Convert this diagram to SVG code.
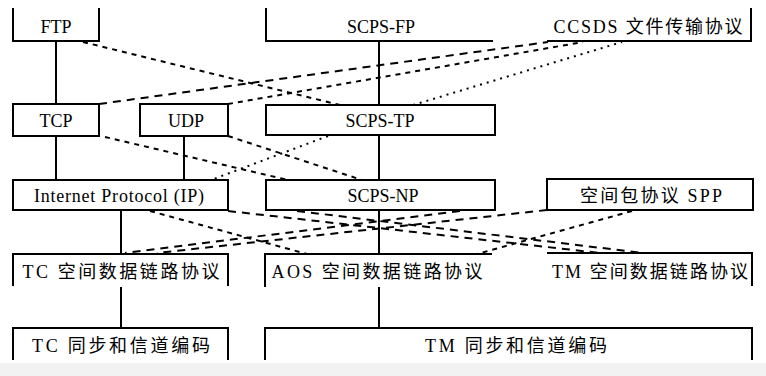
<svg xmlns="http://www.w3.org/2000/svg" width="766" height="376" viewBox="0 0 766 376">
<style>
.b{fill:none;stroke:#000;stroke-width:2}
.l{fill:none;stroke:#000;stroke-width:2}
.d1{fill:none;stroke:#000;stroke-width:2;stroke-dasharray:8 6}
.d2{fill:none;stroke:#000;stroke-width:2;stroke-dasharray:5 5}
.d3{fill:none;stroke:#000;stroke-width:2;stroke-dasharray:2 5}
text{font-family:"Liberation Serif","Noto Sans CJK SC",serif;font-size:18px;fill:#000;text-anchor:middle}
</style>
<rect width="766" height="376" fill="#fff"/>
<rect y="363" width="766" height="13" fill="#f2f2f2"/>
<g id="ftp"><path class="b" d="M13,8V41H99V8"/><text x="56" y="33">FTP</text></g>
<g id="scps-fp"><path class="b" d="M266,8V41H493"/><text x="381" y="33">SCPS-FP</text></g>
<g id="ccsds-fp"><path class="b" d="M547,41H751V8"/><text x="648" y="33" textLength="189">CCSDS 文件传输协议</text></g>
<g id="tcp"><rect class="b" x="13" y="104" width="86" height="32"/><text x="56" y="127">TCP</text></g>
<g id="udp"><rect class="b" x="140" y="104" width="88" height="32"/><text x="186" y="127">UDP</text></g>
<g id="scps-tp"><rect class="b" x="266" y="105" width="229" height="30"/><text x="380" y="127">SCPS-TP</text></g>
<g id="ip"><rect class="b" x="13" y="180" width="215" height="30"/><text x="119" y="202" textLength="170">Internet Protocol (IP)</text></g>
<g id="scps-np"><rect class="b" x="266" y="180" width="229" height="30"/><text x="383" y="202">SCPS-NP</text></g>
<g id="spp"><rect class="b" x="547" y="179" width="206" height="31"/><text x="651" y="202" textLength="142">空间包协议 SPP</text></g>
<g id="tc-dl"><path class="b" d="M13,286V254H228V286"/><text x="121" y="278" textLength="197">TC 空间数据链路协议</text></g>
<g id="aos-dl"><path class="b" d="M265,287V254H492"/><text x="377" y="278" textLength="211">AOS 空间数据链路协议</text></g>
<g id="tm-dl"><path class="b" d="M547,253H752V286"/><text x="650" y="278" textLength="196">TM 空间数据链路协议</text></g>
<g id="tc-sync"><path class="b" d="M13,360V328H228V360"/><text x="121" y="352" textLength="178">TC 同步和信道编码</text></g>
<g id="tm-sync"><path class="b" d="M265,360V328H752V360"/><text x="516" y="352" textLength="182">TM 同步和信道编码</text></g>
<g id="connectors">
<path class="l" d="M56,41V104M379,41V105M56,136V180M184,136V180M379,135V180M121,210V254M379,210V254M121,287V328M379,287V328"/>
<path class="d2" d="M83,42L340,105"/>
<path class="d1" d="M99,104L548,42"/>
<path class="d2" d="M228,104L583,42"/>
<path class="d3" d="M413,105L622,42"/>
<path class="d2" d="M105,137L288,180"/>
<path class="d2" d="M228,136L362,180"/>
<path class="d3" d="M328,136L211,180"/>
<path class="d1" d="M228,211L600,253"/>
<path class="d2" d="M150,211L307,254"/>
<path class="d1" d="M297,211L643,253"/>
<path class="d1" d="M460,211L125,253"/>
<path class="d2" d="M632,211L477,254"/>
<path class="d1" d="M547,210L157,253"/>
</g>
</svg>
